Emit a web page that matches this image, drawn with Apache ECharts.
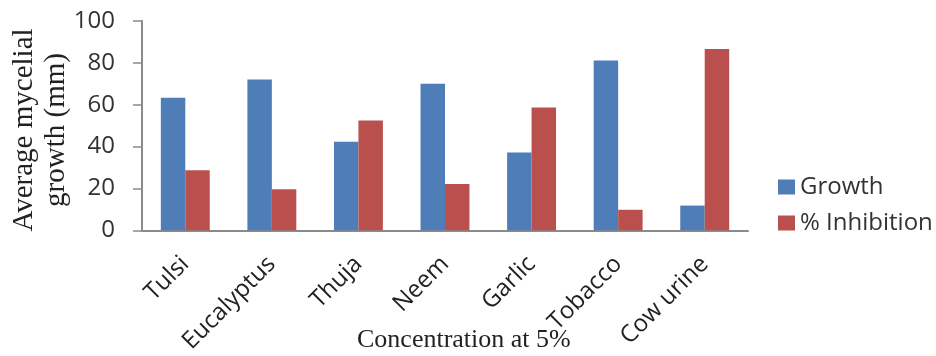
<!DOCTYPE html>
<html>
<head>
<meta charset="utf-8">
<script src="https://cdn.jsdelivr.net/npm/echarts@6/dist/echarts.min.js"></script>
<style>
  html, body { margin: 0; padding: 0; background: #ffffff; }
  #chart { width: 936px; height: 356px; }
</style>
</head>
<body>
<div id="chart"></div>
<script>
// Botanical extracts tested at 5% concentration
const categories = ['Tulsi', 'Eucalyptus', 'Thuja', 'Neem', 'Garlic', 'Tobacco', 'Cow urine'];
// Average mycelial growth (mm)
const growth = [63.3, 72.1, 42.3, 70.0, 37.2, 81.1, 11.8];
// Percent inhibition of mycelial growth
const inhibition = [28.7, 19.6, 52.4, 22.1, 58.7, 9.8, 86.6];
const seriesNames = ['Growth', '% Inhibition'];
const yTicks = [0, 20, 40, 60, 80, 100];

const chart = echarts.init(document.getElementById('chart'), null, { renderer: 'canvas' });

const axisGray = '#8a8a8a';
const sansFont = '"Open Sans", "Liberation Sans", sans-serif';
const serifFont = '"Liberation Serif", "DejaVu Serif", serif';

chart.setOption({
  animation: false,
  backgroundColor: '#ffffff',
  color: ['#4E7DB7', '#B9504D'],
  title: {
    text: 'Concentration at 5%',
    left: 357,
    top: 327,
    padding: 0,
    textStyle: { fontFamily: serifFont, fontSize: 26, fontWeight: 'normal', color: '#222' }
  },
  grid: { left: 142, right: 188, top: 21, bottom: 124, containLabel: false },
  legend: {
    orient: 'vertical',
    left: 773,
    top: 170,
    itemWidth: 17,
    itemHeight: 15,
    itemGap: 12,
    icon: 'rect',
    data: seriesNames,
    textStyle: { fontFamily: sansFont, fontSize: 24, color: '#333' }
  },
  xAxis: {
    type: 'category',
    data: categories,
    axisLine: { show: true, lineStyle: { color: axisGray, width: 2 } },
    axisTick: { show: false },
    axisLabel: {
      rotate: 45,
      interval: 0,
      margin: 30,
      fontFamily: sansFont,
      fontSize: 24,
      color: '#222'
    }
  },
  yAxis: {
    type: 'value',
    min: yTicks[0],
    max: yTicks[yTicks.length - 1],
    interval: 20,
    axisLine: { show: true, lineStyle: { color: axisGray, width: 2 } },
    axisTick: { show: true, inside: false, length: 9, lineStyle: { color: axisGray, width: 1.5 } },
    splitLine: { show: false },
    axisLabel: {
      margin: 27,
      fontFamily: sansFont,
      fontSize: 24,
      color: '#333',
      formatter: (v) => (yTicks.includes(v) ? String(v) : '')
    }
  },
  graphic: [{
    type: 'text',
    x: 40,
    y: 130,
    rotation: Math.PI / 2,
    style: {
      text: 'Average mycelial\ngrowth (mm)',
      font: '29px ' + serifFont,
      fill: '#222',
      align: 'center',
      verticalAlign: 'middle',
      lineHeight: 32
    }
  }],
  series: [
    {
      name: seriesNames[0],
      type: 'bar',
      data: growth,
      barGap: '0%',
      barCategoryGap: '43.5%'
    },
    {
      name: seriesNames[1],
      type: 'bar',
      data: inhibition,
      barGap: '0%',
      barCategoryGap: '43.5%'
    }
  ]
});
</script>
</body>
</html>
